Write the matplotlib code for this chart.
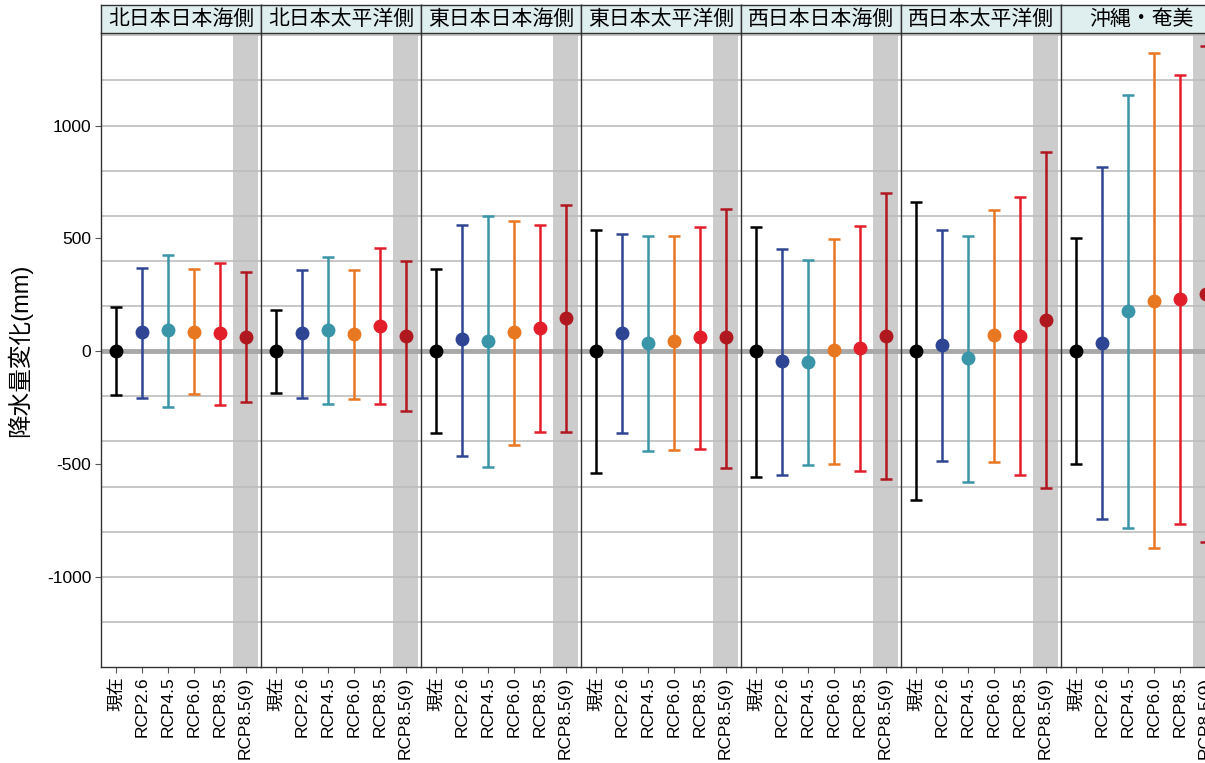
import matplotlib
matplotlib.use('Agg')
import matplotlib.pyplot as plt

plt.rcParams['font.family'] = ['Liberation Sans', 'Noto Sans CJK JP']
plt.rcParams['axes.unicode_minus'] = False

REGIONS = ['北日本日本海側', '北日本太平洋側', '東日本日本海側', '東日本太平洋側',
           '西日本日本海側', '西日本太平洋側', '沖縄・奄美']
SCENARIOS = ['現在', 'RCP2.6', 'RCP4.5', 'RCP6.0', 'RCP8.5', 'RCP8.5(9)']
COLORS = ['#000000', '#2E4593', '#3A95A8', '#E87722', '#E31E2B', '#B0181F']

# mean change (mm) per region, one value per scenario
mean_vals = [
    [0, 83, 93, 85, 80, 63],
    [0, 81, 93, 74, 111, 68],
    [0, 52, 46, 84, 102, 146],
    [0, 81, 37, 43, 62, 62],
    [0, -44, -47, 3, 15, 69],
    [0, 27, -32, 72, 69, 140],
    [0, 38, 176, 223, 231, 255],
]
upper_vals = [
    [196, 369, 428, 366, 392, 351],
    [184, 361, 417, 361, 456, 398],
    [363, 558, 599, 575, 558, 646],
    [537, 518, 509, 512, 552, 630],
    [549, 453, 404, 497, 555, 700],
    [659, 537, 510, 627, 681, 882],
    [500, 817, 1136, 1320, 1226, 1353],
]
lower_vals = [
    [-195, -207, -248, -190, -237, -226],
    [-184, -207, -235, -214, -235, -267],
    [-363, -465, -512, -414, -360, -357],
    [-540, -363, -442, -437, -432, -518],
    [-556, -550, -503, -500, -532, -568],
    [-662, -488, -581, -492, -550, -608],
    [-501, -746, -786, -873, -764, -848],
]

W, H = 1205, 763
fig = plt.figure(figsize=(W / 100, H / 100), dpi=100)

left_px, panel_w = 101, 160
top_px, bottom_px, strip_top = 33, 667, 5
xs = list(range(1, len(SCENARIOS) + 1))

for i, region in enumerate(REGIONS):
    x0 = (left_px + i * panel_w) / W
    ax = fig.add_axes([x0, (H - bottom_px) / H, panel_w / W, (bottom_px - top_px) / H])
    ax.set_xlim(0.4, 6.6)
    ax.set_ylim(-1400, 1410)

    # highlighted last column
    ax.axvspan(5.5, 6.5, color='#CCCCCC', zorder=0.5, lw=0)
    for g in range(-1200, 1401, 200):
        if g == 0:
            continue
        ax.axhline(g, color='#BDBDBD', lw=1.2, zorder=1)
    ax.axhline(0, color='#A8A8A8', lw=3.5, zorder=1.2)

    for j in range(len(SCENARIOS)):
        m = mean_vals[i][j]
        ax.errorbar(xs[j], m,
                    yerr=[[m - lower_vals[i][j]], [upper_vals[i][j] - m]],
                    fmt='o', color=COLORS[j], ms=9, lw=1.8, capsize=4.5,
                    capthick=1.8, zorder=3)

    ax.set_xticks(xs)
    ax.set_xticklabels(SCENARIOS, rotation=90, fontsize=12.5)
    ax.tick_params(axis='x', length=4, color='#555555', pad=3)
    for s in ['top', 'right']:
        ax.spines[s].set_visible(False)
    ax.spines['left'].set_color('#333333')
    ax.spines['bottom'].set_color('#333333')
    ax.spines['left'].set_linewidth(1)
    ax.spines['bottom'].set_linewidth(1)

    if i == 0:
        ax.set_yticks([-1000, -500, 0, 500, 1000])
        ax.tick_params(axis='y', length=4, color='#555555', labelsize=12.5, pad=3)
        ax.set_ylabel('降水量変化(mm)', fontsize=17, labelpad=11)
    else:
        ax.set_yticks([])

    # facet strip
    sax = fig.add_axes([x0, (H - top_px) / H, panel_w / W, (top_px - strip_top) / H])
    sax.set_facecolor('#DFEEEE')
    sax.set_xticks([])
    sax.set_yticks([])
    for s in sax.spines.values():
        s.set_color('#333333')
        s.set_linewidth(1)
    sax.text(0.5, 0.48, region, ha='center', va='center', fontsize=15,
             transform=sax.transAxes)

fig.savefig('out.png', dpi=100)
